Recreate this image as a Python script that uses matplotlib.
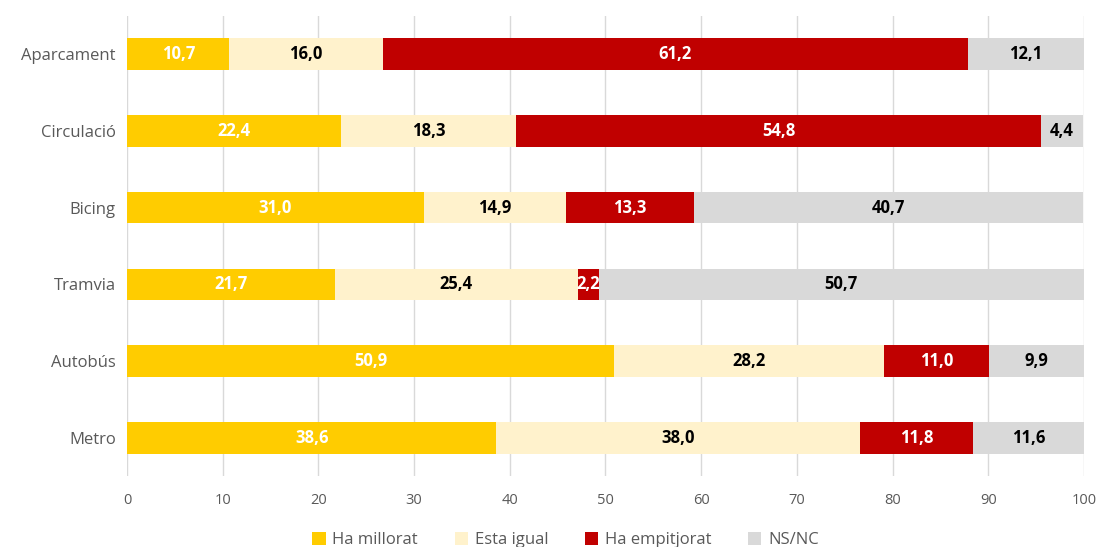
import matplotlib.pyplot as plt
import numpy as np

plt.rcParams["font.family"] = ["Open Sans", "DejaVu Sans"]

categories = ["Aparcament", "Circulació", "Bicing", "Tramvia", "Autobús", "Metro"]
series_names = ["Ha millorat", "Esta igual", "Ha empitjorat", "NS/NC"]
millorat = [10.7, 22.4, 31.0, 21.7, 50.9, 38.6]
igual = [16.0, 18.3, 14.9, 25.4, 28.2, 38.0]
empitjorat = [61.2, 54.8, 13.3, 2.2, 11.0, 11.8]
nsnc = [12.1, 4.4, 40.7, 50.7, 9.9, 11.6]

colors = ["#FFCC00", "#FFF2CC", "#C00000", "#D9D9D9"]
label_colors = ["white", "black", "white", "black"]

fig = plt.figure(figsize=(10.98, 5.47), dpi=100)
ax = fig.add_axes([0.1157, 0.129, 0.8715, 0.8425])

y = np.arange(len(categories))
left = np.zeros(len(categories))
for name, vals, col, lc in zip(series_names, [millorat, igual, empitjorat, nsnc], colors, label_colors):
    vals = np.array(vals)
    bars = ax.barh(y, vals, left=left, height=0.41, color=col, label=name, zorder=3)
    for b, v in zip(bars, vals):
        ax.text(b.get_x() + b.get_width() / 2, b.get_y() + b.get_height() / 2,
                f"{v:.1f}".replace(".", ","), ha="center", va="center",
                color=lc, fontsize=12, fontweight="bold", zorder=4)
    left += vals

ax.set_xlim(0, 100)
ax.set_ylim(len(categories) - 0.5, -0.5)
ax.set_yticks(y)
ax.set_yticklabels(categories, fontsize=12, color="#595959")
ax.set_xticks(np.arange(0, 101, 10))
ax.tick_params(axis="x", labelsize=10.5, colors="#595959", length=0, pad=12)
ax.tick_params(axis="y", length=0, pad=8)
ax.grid(axis="x", color="#D9D9D9", linewidth=1, zorder=0)
for s in ax.spines.values():
    s.set_visible(False)

fig.legend(loc="lower center", ncol=4, frameon=False, fontsize=12,
           bbox_to_anchor=(0.515, -0.03), handlelength=0.8, handleheight=0.8,
           columnspacing=2.2, handletextpad=0.4, labelcolor="#595959")

fig.savefig("out.png", dpi=100)
